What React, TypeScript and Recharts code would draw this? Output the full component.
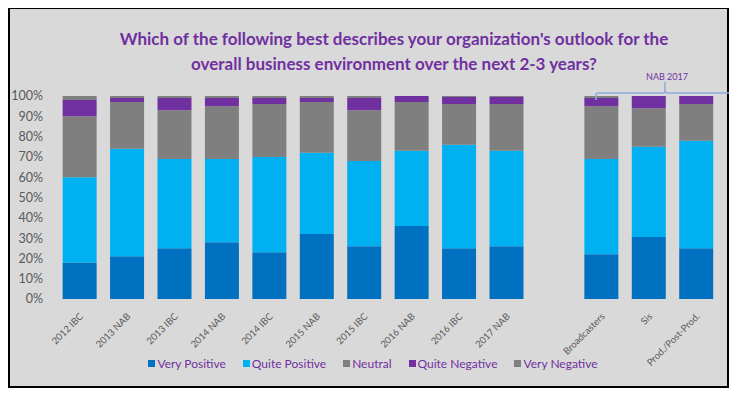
import React from "react";
import { BarChart, Bar, XAxis, YAxis } from "recharts";

const categories = [
  "2012 IBC", "2013 NAB", "2013 IBC", "2014 NAB", "2014 IBC", "2015 NAB", "2015 IBC",
  "2016 NAB", "2016 IBC", "2017 NAB", "", "Broadcasters", "Sis", "Prod./Post-Prod.",
];
const veryPositive = [18, 21, 25, 28, 23, 32, 26, 36, 25, 26, null, 22, 30.5, 25];
const quitePositive = [42, 53, 44, 41, 47, 40, 42, 37, 51, 47, null, 47, 44.5, 53];
const neutral = [30, 23, 24, 26, 26, 25, 25, 24, 20, 23, null, 26, 19, 18];
const quiteNegative = [8, 2, 6, 4, 3, 2, 6, 3, 3.5, 3.5, null, 4, 6, 4];
const veryNegative = [2, 1, 1, 1, 1, 1, 1, 0, 0.5, 0.5, null, 1, 0, 0];
const yTicks = [0, 10, 20, 30, 40, 50, 60, 70, 80, 90, 100];

const seriesNames = ["Very Positive", "Quite Positive", "Neutral", "Quite Negative", "Very Negative"];
const seriesKeys = ["vp", "qp", "n", "qn", "vn"];
const seriesColors = ["#0070C0", "#00B0F0", "#7F7F7F", "#7030A0", "#7F7F7F"];

const data = categories.map((c, i) => ({
  name: c,
  vp: veryPositive[i],
  qp: quitePositive[i],
  n: neutral[i],
  qn: quiteNegative[i],
  vn: veryNegative[i],
}));

const FONT = "Lato, 'Open Sans', sans-serif";

const XTick = (props: any) => {
  const { x, y, payload } = props;
  const label = payload && payload.value;
  if (!label) return null;
  return (
    <g transform={`translate(${x + 4},${y + 10})`}>
      <text
        x={0}
        y={0}
        textAnchor="end"
        transform="rotate(-45)"
        fill="#595959"
        fontSize={9.5}
        fontFamily={FONT}
      >
        {label}
      </text>
    </g>
  );
};

export default function App() {
  return (
    <div
      style={{
        position: "relative",
        width: 721,
        height: 381,
        boxSizing: "border-box",
        border: "2px solid #000",
        background: "#D9D9D9",
        marginTop: -1,
        fontFamily: FONT,
      }}
    >
      <div
        style={{
          position: "absolute",
          left: 0,
          top: 17,
          width: 717,
          boxSizing: "border-box",
          paddingLeft: 51,
          textAlign: "center",
          color: "#7030A0",
          fontWeight: 700,
          fontSize: 17,
          lineHeight: "25px",
        }}
      >
        <div>Which of the following best describes your organization's outlook for the</div>
        <div>overall business environment over the next 2-3 years?</div>
      </div>
      <div style={{ position: "absolute", left: 0, top: 0 }}>
        <BarChart
          width={717}
          height={377}
          data={data}
          margin={{ top: 87, right: 7, bottom: 0, left: 0 }}
          barCategoryGap="14%"
        >
          <XAxis
            dataKey="name"
            interval={0}
            axisLine={false}
            tickLine={false}
            height={87}
            tick={<XTick />}
          />
          <YAxis
            domain={[0, 100]}
            ticks={yTicks}
            width={46}
            axisLine={false}
            tickLine={false}
            tickSize={0}
            tickMargin={13}
            tickFormatter={(v: number) => `${v}%`}
            tick={{ fill: "#595959", fontSize: 12.5, fontFamily: FONT }}
          />
          {seriesKeys.map((k, i) => (
            <Bar
              key={k}
              dataKey={k}
              name={seriesNames[i]}
              stackId="a"
              fill={seriesColors[i]}
              isAnimationActive={false}
            />
          ))}
        </BarChart>
      </div>
      <svg
        style={{ position: "absolute", left: 0, top: 0, overflow: "visible" }}
        width={717}
        height={377}
      >
        <path
          d="M586,91 L586,85.5 Q586,84 588,84 L653,84 Q655,84 655,81 L655,73 L655,81 Q655,84 657,84 L719,84"
          fill="none"
          stroke="#8FAADC"
          strokeWidth={1.5}
        />
        <text x={657} y={71} textAnchor="middle" fill="#7030A0" fontSize={9} fontFamily={FONT}>
          NAB 2017
        </text>
      </svg>
      <div
        style={{
          position: "absolute",
          left: 0,
          top: 347,
          width: 717,
          boxSizing: "border-box",
          paddingLeft: 9,
          display: "flex",
          justifyContent: "center",
          alignItems: "center",
          fontSize: 12,
          color: "#7030A0",
        }}
      >
        {seriesNames.map((s, i) => (
          <div key={s} style={{ display: "flex", alignItems: "center", marginLeft: i === 0 ? 0 : 17 }}>
            <span
              style={{
                display: "inline-block",
                width: 7,
                height: 7,
                background: seriesColors[i],
                marginRight: 2,
              }}
            />
            <span>{s}</span>
          </div>
        ))}
      </div>
    </div>
  );
}
